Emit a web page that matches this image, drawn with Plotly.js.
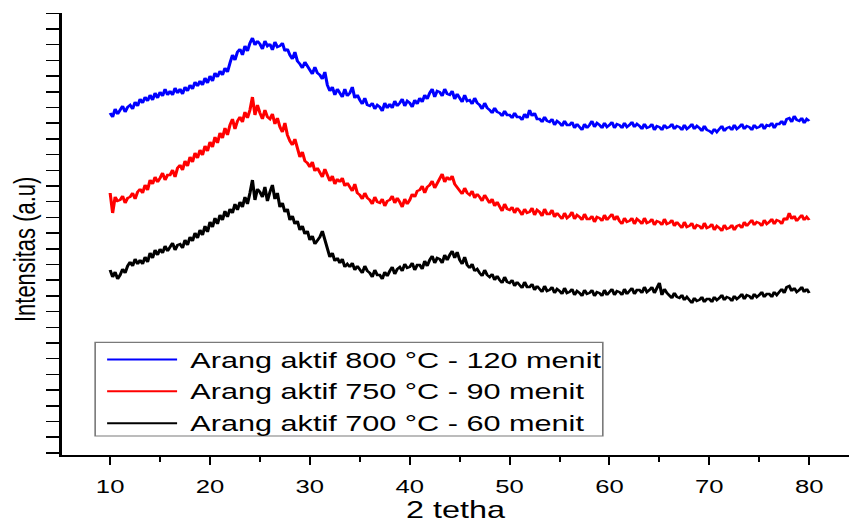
<!DOCTYPE html>
<html>
<head>
<meta charset="utf-8">
<script src="https://cdn.plot.ly/plotly-3.0.1.min.js"></script>
<style>
  html, body { margin: 0; padding: 0; background: #fff; overflow: hidden; }
  /* the figure is drawn narrow and widened horizontally, like the original export */
  #chart { width: 629px; height: 523px; transform: scaleX(1.35); transform-origin: 0 0; }
</style>
</head>
<body>
<div id="chart"></div>
<script>
// XRD scan grid (degrees 2-theta)
const twoThetaStart = 10;
const twoThetaStep = 0.25;

const seriesNames = [
  'Arang aktif 800 °C - 120 menit',
  'Arang aktif 750 °C - 90 menit',
  'Arang aktif 700 °C - 60 menit'
];
const seriesColors = ['#0000ff', '#ff0000', '#000000'];

// intensity (a.u., stacked with offsets), one value per scan step from 10 to 80
const intensity800 = [
  342,338,346,341, 345,349,343,348, 350,346,353,349, 356,352,358,354,
  360,355,362,357, 363,359,366,360, 364,360,367,362, 366,361,368,364,
  370,366,373,369, 374,370,377,372, 379,374,382,378, 384,380,387,383,
  392,400,395,403, 406,400,409,404, 412,417,410,414, 411,406,414,409,
  411,405,413,408, 409,412,404,406, 400,396,403,394, 391,387,393,388,
  385,381,388,382, 380,376,383,370, 364,368,360,366, 362,358,366,359,
  362,368,357,360, 355,351,357,350, 349,352,346,350, 348,344,352,347,
  351,347,354,349, 352,356,349,354, 352,348,355,351, 357,353,360,356,
  362,366,358,364, 363,359,366,361, 360,364,356,361, 357,353,360,354,
  355,351,357,352, 350,346,352,347, 345,342,347,343, 342,339,344,340,
  340,337,342,338, 338,335,341,337, 345,339,342,336, 336,333,338,334,
  333,336,330,334, 332,329,334,330, 330,333,327,331, 328,325,331,327,
  330,334,328,332, 330,327,332,328, 330,333,327,331, 330,327,332,328,
  330,333,328,331, 329,326,331,327, 328,331,325,329, 328,325,330,327,
  328,331,326,329, 328,325,330,326, 328,331,326,329, 327,324,329,325,
  324,322,326,323, 326,329,324,327, 328,325,330,326, 328,331,326,329,
  328,325,330,327, 328,331,326,330, 329,332,327,331, 331,334,330,336,
  337,333,339,335, 334,337,332,336, 334
];

const intensity750 = [
  262,242,258,254, 255,259,252,257, 258,262,256,263, 266,262,270,265,
  275,271,278,273, 277,282,275,280, 280,285,278,287, 290,285,294,289,
  298,293,302,297, 305,300,309,304, 313,308,318,312, 322,317,327,320,
  330,336,326,334, 338,333,343,337, 345,358,340,350, 342,336,345,338,
  336,341,331,337, 328,323,332,320, 314,310,316,306, 298,303,294,292,
  288,293,284,287, 282,278,286,279, 274,279,271,276, 273,277,269,272,
  268,264,271,262, 260,256,262,257, 255,251,258,253, 252,256,249,254,
  255,259,252,257, 253,248,256,251, 255,261,258,264, 265,269,262,268,
  270,274,267,272, 276,281,273,278, 275,279,271,268, 265,261,267,262,
  260,264,257,261, 258,254,260,255, 252,256,249,253, 248,244,251,246,
  245,248,242,247, 244,240,246,242, 243,247,240,245, 243,239,246,241,
  241,245,238,242, 239,236,242,237, 239,243,236,240, 238,235,241,236,
  236,239,233,238, 237,234,240,235, 238,241,235,239, 234,231,237,233,
  234,237,231,236, 234,231,237,232, 233,236,230,234, 233,230,236,231,
  232,235,229,233, 230,227,233,228, 229,232,226,230, 229,226,232,227,
  228,231,225,229, 227,224,230,226, 227,230,225,229, 230,227,233,229,
  232,235,230,233, 232,229,235,231, 233,236,231,235, 234,231,237,235,
  242,236,239,234, 237,240,235,238, 235
];

const intensity700 = [
  185,178,183,176, 180,186,182,189, 193,189,196,191, 195,191,198,193,
  202,197,205,200, 206,202,209,204, 208,212,205,210, 211,207,215,210,
  218,214,222,217, 225,220,229,223, 233,228,237,231, 240,235,244,238,
  246,242,251,245, 253,248,258,251, 262,275,255,266, 263,258,268,254,
  263,270,256,262, 248,252,243,246, 235,239,231,234, 225,229,221,224,
  215,219,211,214, 218,224,214,206, 198,202,194,197, 192,196,188,191,
  188,192,185,189, 186,182,189,184, 182,178,185,180, 180,176,183,179,
  184,188,181,186, 188,184,191,187, 188,192,185,190, 190,186,194,189,
  195,199,192,197, 196,192,200,195, 200,204,197,203, 195,191,198,190,
  187,191,184,186, 182,179,185,180, 178,181,175,179, 175,172,178,173,
  172,175,169,173, 170,167,173,168, 168,171,165,169, 166,163,169,164,
  165,168,162,166, 164,161,167,162, 163,166,160,164, 162,159,165,161,
  162,165,159,163, 162,159,165,160, 163,166,160,164, 163,160,166,161,
  164,167,161,165, 165,162,168,163, 165,168,162,167, 172,160,166,162,
  160,157,162,158, 157,160,155,158, 155,152,157,154, 155,158,153,156,
  156,153,158,155, 157,160,155,158, 157,154,159,156, 158,161,156,160,
  159,156,161,158, 160,163,158,161, 161,158,163,160, 163,166,162,168,
  169,164,167,163, 165,168,163,166, 162
];

const seriesValues = [intensity800, intensity750, intensity700];

const traces = seriesValues.map((vals, i) => ({
  type: 'scatter',
  mode: 'lines',
  name: seriesNames[i],
  x0: twoThetaStart,
  dx: twoThetaStep,
  y: vals,
  line: { color: seriesColors[i], width: 2.3 },
  hoverinfo: 'skip'
}));

// hand-built legend box (paper coordinates)
const legendBox = { x0: 0.042, x1: 0.687, y0: 0.043, y1: 0.255 };
const legendRowsY = [0.216, 0.144, 0.072];
const legendLine = { x0: 0.0572, x1: 0.1461 };
const legendTextX = 0.160;

const shapes = [{
  type: 'rect', xref: 'paper', yref: 'paper',
  x0: legendBox.x0, x1: legendBox.x1, y0: legendBox.y0, y1: legendBox.y1,
  line: { color: '#7a7a7a', width: 1.2 }, fillcolor: 'rgba(0,0,0,0)'
}].concat(seriesColors.map((c, i) => ({
  type: 'line', xref: 'paper', yref: 'paper',
  x0: legendLine.x0, x1: legendLine.x1, y0: legendRowsY[i], y1: legendRowsY[i],
  line: { color: c, width: 2 }
})));

const annotations = seriesNames.map((n, i) => ({
  xref: 'paper', yref: 'paper', x: legendTextX, y: legendRowsY[i],
  xanchor: 'left', yanchor: 'middle', showarrow: false, text: n,
  font: { family: 'Liberation Sans, Arial, sans-serif', size: 22.7, color: '#000' }
}));

// y-axis title, set a little below the middle of the axis
annotations.push({
  xref: 'paper', yref: 'paper', x: -0.047, y: 0.465,
  xanchor: 'center', yanchor: 'middle', showarrow: false, textangle: -90,
  text: 'Intensitas (a.u)',
  font: { family: 'Liberation Sans, Arial, sans-serif', size: 22, color: '#000' }
});

const layout = {
  width: 629, height: 523,
  margin: { l: 46, r: 0, t: 13, b: 68 },
  paper_bgcolor: '#fff', plot_bgcolor: '#fff',
  showlegend: false,
  font: { family: 'Liberation Sans, Arial, sans-serif', color: '#000' },
  xaxis: {
    range: [5.19, 84.0],
    tickmode: 'linear', tick0: 0, dtick: 10,
    ticks: 'outside', ticklen: 8, tickwidth: 1.5, tickcolor: '#000',
    minor: { tickmode: 'linear', tick0: 5, dtick: 10, ticks: 'outside', ticklen: 5, tickwidth: 1.5, tickcolor: '#000' },
    showline: true, linecolor: '#000', linewidth: 2,
    showgrid: false, zeroline: false,
    tickfont: { size: 19, color: '#000' },
    ticklabelstandoff: 5,
    title: { text: '2 tetha', font: { size: 24, color: '#000' }, standoff: 13 }
  },
  yaxis: {
    range: [0, 442],
    tickmode: 'linear', tick0: 2.1, dtick: 31.4,
    ticks: 'outside', ticklen: 10, tickwidth: 1.5, tickcolor: '#000',
    minor: { tickmode: 'linear', tick0: 17.8, dtick: 31.4, ticks: 'outside', ticklen: 10, tickwidth: 1.5, tickcolor: '#000' },
    showticklabels: false,
    showline: true, linecolor: '#000', linewidth: 2,
    showgrid: false, zeroline: false
  },
  shapes: shapes,
  annotations: annotations
};

Plotly.newPlot('chart', traces, layout, { displayModeBar: false, staticPlot: true });
</script>
</body>
</html>
